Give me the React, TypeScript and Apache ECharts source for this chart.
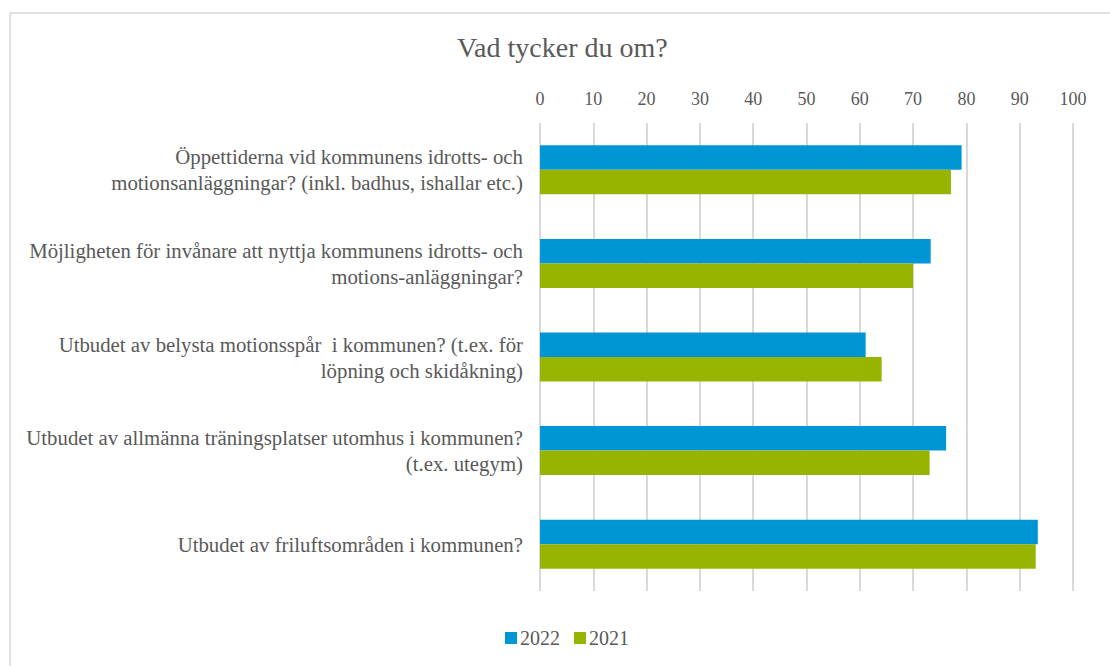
import React, { useEffect, useRef } from "react";
import * as echarts from "echarts";

const categories: string[] = [
  "Öppettiderna vid kommunens idrotts- och\nmotionsanläggningar? (inkl. badhus, ishallar etc.)",
  "Möjligheten för invånare att nyttja kommunens idrotts- och\nmotions-anläggningar?",
  "Utbudet av belysta motionsspår  i kommunen? (t.ex. för\nlöpning och skidåkning)",
  "Utbudet av allmänna träningsplatser utomhus i kommunen?\n(t.ex. utegym)",
  "Utbudet av friluftsområden i kommunen?",
];
const values2022: number[] = [79.1, 73.3, 61.1, 76.2, 93.4];
const values2021: number[] = [77.1, 70.0, 64.1, 73.1, 93.0];
const seriesNames: string[] = ["2022", "2021"];
const titleText = "Vad tycker du om?";

const FONT = "'Liberation Serif', serif";
const TEXT_COLOR = "#595959";

export default function App() {
  const ref = useRef<HTMLDivElement>(null);
  useEffect(() => {
    if (!ref.current) return;
    const chart = echarts.init(ref.current, undefined, { renderer: "svg" });
    chart.setOption({
      animation: false,
      backgroundColor: "#ffffff",
      textStyle: { fontFamily: FONT, fontWeight: "normal", fontStyle: "normal" },
      title: {
        text: titleText,
        left: 452,
        top: 28,
        textStyle: {
          fontFamily: FONT,
          fontSize: 28,
          fontWeight: "normal",
          color: TEXT_COLOR,
        },
      },
      graphic: [
        {
          type: "rect",
          shape: { x: 10, y: 13, width: 1200, height: 800 },
          style: { fill: "none", stroke: "#d9d9d9", lineWidth: 1.5 },
          silent: true,
        },
      ],
      legend: {
        left: 500,
        top: 623,
        icon: "rect",
        itemWidth: 12,
        itemHeight: 12,
        itemGap: 14,
        textStyle: {
          fontFamily: FONT,
          fontWeight: "normal",
          fontStyle: "normal",
          fontSize: 20,
          color: TEXT_COLOR,
          padding: [0, 0, 0, -2],
        },
        data: seriesNames,
      },
      grid: {
        left: 540,
        right: 37,
        top: 123,
        bottom: 75,
      },
      xAxis: {
        type: "value",
        position: "top",
        min: 0,
        max: 100,
        interval: 10,
        axisLine: { show: false },
        axisTick: { show: false },
        axisLabel: {
          margin: 15,
          fontFamily: FONT,
          fontWeight: "normal",
          fontStyle: "normal",
          fontSize: 18,
          color: TEXT_COLOR,
        },
        splitLine: { show: true, lineStyle: { color: "#d9d9d9", width: 2 } },
      },
      yAxis: {
        type: "category",
        inverse: true,
        data: categories,
        axisLine: { show: false },
        axisTick: { show: false },
        axisLabel: {
          margin: 17,
          fontFamily: FONT,
          fontWeight: "normal",
          fontStyle: "normal",
          fontSize: 20.8,
          lineHeight: 26,
          color: TEXT_COLOR,
          align: "right",
        },
      },
      series: [
        {
          name: seriesNames[0],
          type: "bar",
          data: values2022,
          itemStyle: { color: "#0096d6" },
          barGap: "0%",
          barCategoryGap: "47.6%",
        },
        {
          name: seriesNames[1],
          type: "bar",
          data: values2021,
          itemStyle: { color: "#97b400" },
          barGap: "0%",
          barCategoryGap: "47.6%",
        },
      ],
    });
    return () => chart.dispose();
  }, []);
  return (
    <div
      ref={ref}
      style={{ position: "fixed", left: 0, top: 0, width: 1110, height: 666 }}
    />
  );
}
